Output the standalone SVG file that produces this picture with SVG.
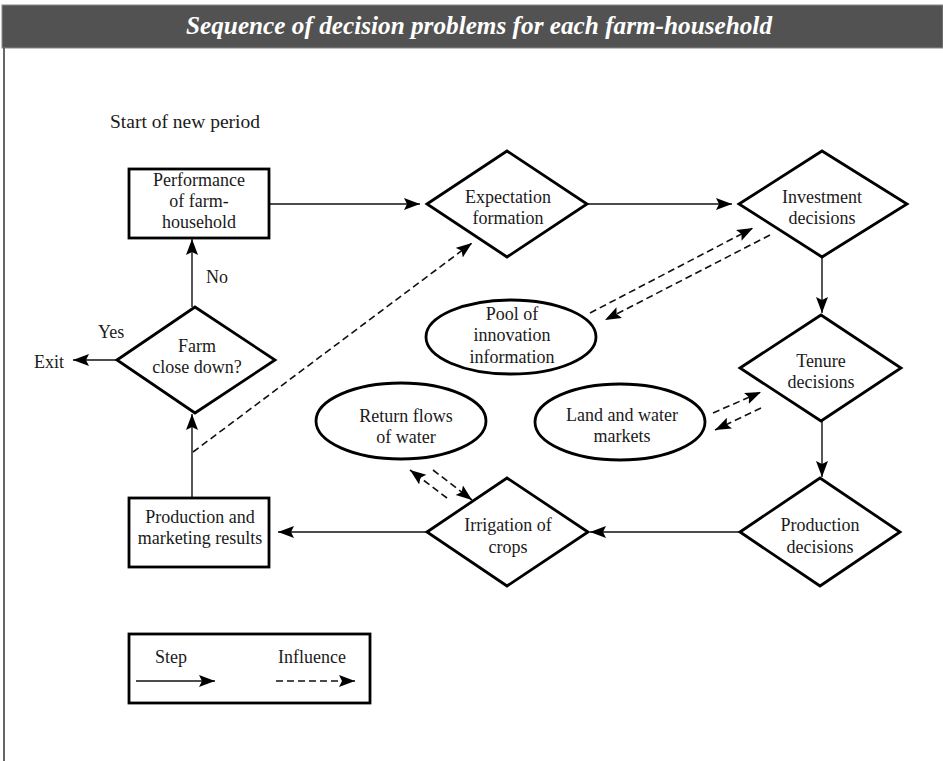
<svg xmlns="http://www.w3.org/2000/svg" width="943" height="761" viewBox="0 0 943 761">
<style>
.bg{fill:#ffffff}
.node{fill:#ffffff;stroke:#000;stroke-width:2.8}
.t{font-family:"Liberation Serif","Times New Roman",serif;font-size:18px;fill:#1a1a1a;text-anchor:middle}
.tl{font-family:"Liberation Serif","Times New Roman",serif;font-size:18px;fill:#1a1a1a}
.step{fill:none;stroke:#111;stroke-width:1.4}
.infl{fill:none;stroke:#111;stroke-width:1.6;stroke-dasharray:7 4}
.title{font-family:"Liberation Serif","Times New Roman",serif;font-size:25px;font-weight:bold;font-style:italic;fill:#ffffff;text-anchor:middle}
</style>
<defs>
<marker id="ah" markerUnits="userSpaceOnUse" markerWidth="17" markerHeight="13" refX="16" refY="6" orient="auto">
<path d="M0,0 L16,6 L0,12 L3,6 z" fill="#000"/>
</marker>
</defs>
<rect class="bg" x="0" y="0" width="943" height="761"/>
<g id="frame">
<rect x="2" y="5" width="941" height="43" fill="#525252" stroke="#888" stroke-width="1"/>
<line x1="4" y1="48" x2="4" y2="761" stroke="#666" stroke-width="2"/>
<text class="title" x="479" y="34" textLength="586" lengthAdjust="spacingAndGlyphs">Sequence of decision problems for each farm-household</text>
</g>
<g id="start-label"><text class="tl" x="110" y="128" style="font-size:19.5px">Start of new period</text></g>

<g id="connectors">
<line class="step" x1="269" y1="204" x2="420" y2="204" marker-end="url(#ah)"/>
<line class="step" x1="587" y1="204" x2="732" y2="204" marker-end="url(#ah)"/>
<line class="step" x1="822" y1="257" x2="822" y2="313" marker-end="url(#ah)"/>
<line class="step" x1="822" y1="421" x2="822" y2="477" marker-end="url(#ah)"/>
<line class="step" x1="740" y1="532" x2="590" y2="532" marker-end="url(#ah)"/>
<line class="step" x1="427" y1="532" x2="278" y2="532" marker-end="url(#ah)"/>
<line class="step" x1="192" y1="498" x2="192" y2="414" marker-end="url(#ah)"/>
<line class="step" x1="192" y1="307" x2="192" y2="239" marker-end="url(#ah)"/>
<line class="step" x1="117" y1="360" x2="73" y2="360" marker-end="url(#ah)"/>
<line class="infl" x1="193" y1="452" x2="472" y2="243" marker-end="url(#ah)"/>
<line class="infl" x1="590" y1="313" x2="753" y2="228" marker-end="url(#ah)"/>
<line class="infl" x1="770" y1="235" x2="605" y2="320" marker-end="url(#ah)"/>
<line class="infl" x1="713" y1="413" x2="761" y2="392" marker-end="url(#ah)"/>
<line class="infl" x1="761" y1="408" x2="715" y2="430" marker-end="url(#ah)"/>
<line class="infl" x1="447" y1="498" x2="410" y2="470" marker-end="url(#ah)"/>
<line class="infl" x1="433" y1="470" x2="472" y2="500" marker-end="url(#ah)"/>
</g>

<g id="performance">
<rect class="node" x="129" y="169" width="140" height="69"/>
<text class="t" x="199" y="186">Performance</text>
<text class="t" x="199" y="207">of farm-</text>
<text class="t" x="199" y="228">household</text>
</g>
<g id="expectation">
<polygon class="node" points="427,204 507,151 587,204 507,257"/>
<text class="t" x="508" y="203">Expectation</text>
<text class="t" x="508" y="224">formation</text>
</g>
<g id="investment">
<polygon class="node" points="739,204 822,151 907,204 822,257"/>
<text class="t" x="822" y="203">Investment</text>
<text class="t" x="822" y="224">decisions</text>
</g>
<g id="pool">
<ellipse class="node" cx="511" cy="337" rx="85" ry="37"/>
<text class="t" x="512" y="320">Pool of</text>
<text class="t" x="512" y="341">innovation</text>
<text class="t" x="512" y="363">information</text>
</g>
<g id="tenure">
<polygon class="node" points="740,368 821,315 901,368 821,421"/>
<text class="t" x="821" y="367">Tenure</text>
<text class="t" x="821" y="388">decisions</text>
</g>
<g id="land-water">
<ellipse class="node" cx="620" cy="422" rx="85" ry="38"/>
<text class="t" x="622" y="421">Land and water</text>
<text class="t" x="622" y="442">markets</text>
</g>
<g id="return-flows">
<ellipse class="node" cx="401" cy="421" rx="85" ry="38"/>
<text class="t" x="406" y="422">Return flows</text>
<text class="t" x="406" y="443">of water</text>
</g>
<g id="production-decisions">
<polygon class="node" points="740,532 820,478 900,532 820,586"/>
<text class="t" x="820" y="531">Production</text>
<text class="t" x="820" y="553">decisions</text>
</g>
<g id="irrigation">
<polygon class="node" points="427,532 507,478 588,532 507,586"/>
<text class="t" x="508" y="531">Irrigation of</text>
<text class="t" x="508" y="553">crops</text>
</g>
<g id="production-results">
<rect class="node" x="129" y="498" width="140" height="69"/>
<text class="t" x="200" y="523">Production and</text>
<text class="t" x="200" y="544">marketing results</text>
</g>
<g id="farm-close">
<polygon class="node" points="117,360 195,307 275,360 195,413"/>
<text class="t" x="197" y="352">Farm</text>
<text class="t" x="197" y="373">close down?</text>
</g>
<g id="labels">
<text class="tl" x="206" y="283">No</text>
<text class="tl" x="98" y="338">Yes</text>
<text class="tl" x="34" y="368">Exit</text>
</g>
<g id="legend">
<rect class="node" x="129" y="634" width="241" height="69"/>
<text class="tl" x="155" y="663">Step</text>
<text class="tl" x="278" y="663">Influence</text>
<line class="step" x1="136" y1="681" x2="215" y2="681" marker-end="url(#ah)"/>
<line class="infl" x1="276" y1="681" x2="355" y2="681" marker-end="url(#ah)"/>
</g>
</svg>
